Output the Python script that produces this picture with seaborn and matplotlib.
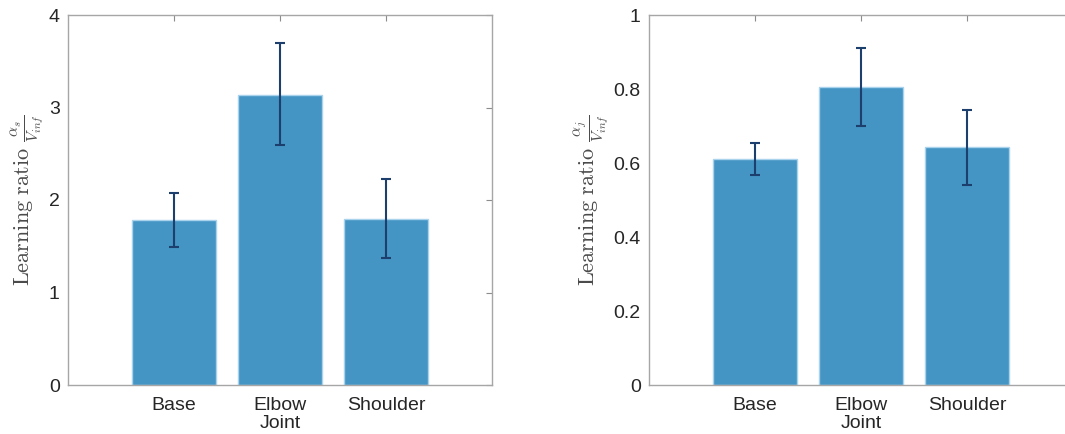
import matplotlib
matplotlib.use("Agg")
import matplotlib.pyplot as plt
import seaborn as sns
import pandas as pd
import numpy as np

# Joint categories and learning-ratio summaries for the two panels
joints = ["Base", "Elbow", "Shoulder"]

ratio_s = [1.78, 3.14, 1.80]
ratio_s_low = [1.49, 2.59, 1.37]
ratio_s_high = [2.08, 3.70, 2.23]

ratio_j = [0.611, 0.805, 0.642]
ratio_j_low = [0.567, 0.700, 0.540]
ratio_j_high = [0.655, 0.911, 0.743]

left_yticks = [0, 1, 2, 3, 4]
right_yticks = [0, 0.2, 0.4, 0.6, 0.8, 1]
right_yticklabels = ["0", "0.2", "0.4", "0.6", "0.8", "1"]

sns.set_theme(style="white")
plt.rcParams["font.family"] = ["Liberation Sans", "DejaVu Sans"]
plt.rcParams["mathtext.fontset"] = "cm"

BAR = "#4494c4"
EDGE = "#a9d2ec"
ERR = "#1c3f6e"
SPINE = "#a6a6a6"
TEXT = "#262626"

fig = plt.figure(figsize=(10.65, 4.34), dpi=100)
ax1 = fig.add_axes([68 / 1065, 49 / 434, 424 / 1065, 370 / 434])
ax2 = fig.add_axes([649 / 1065, 49 / 434, 424 / 1065, 370 / 434])


def panel(ax, vals, low, high, ylim, yticks, yticklabels, sub):
    df = pd.DataFrame({"Joint": joints, "ratio": vals})
    sns.barplot(data=df, x="Joint", y="ratio", ax=ax, color=BAR, saturation=1,
                width=0.8, edgecolor=EDGE, linewidth=1.0, errorbar=None)
    vals = np.asarray(vals)
    yerr = np.vstack([vals - np.asarray(low), np.asarray(high) - vals])
    ax.errorbar(np.arange(len(joints)), vals, yerr=yerr, fmt="none",
                ecolor=ERR, elinewidth=1.5, capsize=3.5, capthick=1.5, zorder=5)
    ax.set_xlim(-1, 3)
    ax.set_ylim(*ylim)
    ax.set_yticks(yticks)
    ax.set_yticklabels(yticklabels)
    ax.tick_params(axis="both", which="both", direction="in", length=4,
                   width=0.8, color="#8c8c8c", labelsize=14, labelcolor=TEXT,
                   top=True, right=True, bottom=False, left=False)
    ax.tick_params(axis="x", pad=9)
    ax.tick_params(axis="y", pad=6)
    for s in ax.spines.values():
        s.set_color(SPINE)
        s.set_linewidth(1.0)
        s.set_visible(True)
    ax.set_xlabel("Joint", fontsize=14, color=TEXT, labelpad=0)
    ax.set_ylabel(r"$\mathrm{Learning\ ratio}\ \frac{\alpha_%s}{V_{inf}}$" % sub,
                  fontsize=16, color="#4a4a4a", labelpad=2)


panel(ax1, ratio_s, ratio_s_low, ratio_s_high, (0, 4), left_yticks,
      [str(t) for t in left_yticks], "s")
panel(ax2, ratio_j, ratio_j_low, ratio_j_high, (0, 1), right_yticks,
      right_yticklabels, "j")

fig.savefig("out.png", dpi=100, facecolor="white")
